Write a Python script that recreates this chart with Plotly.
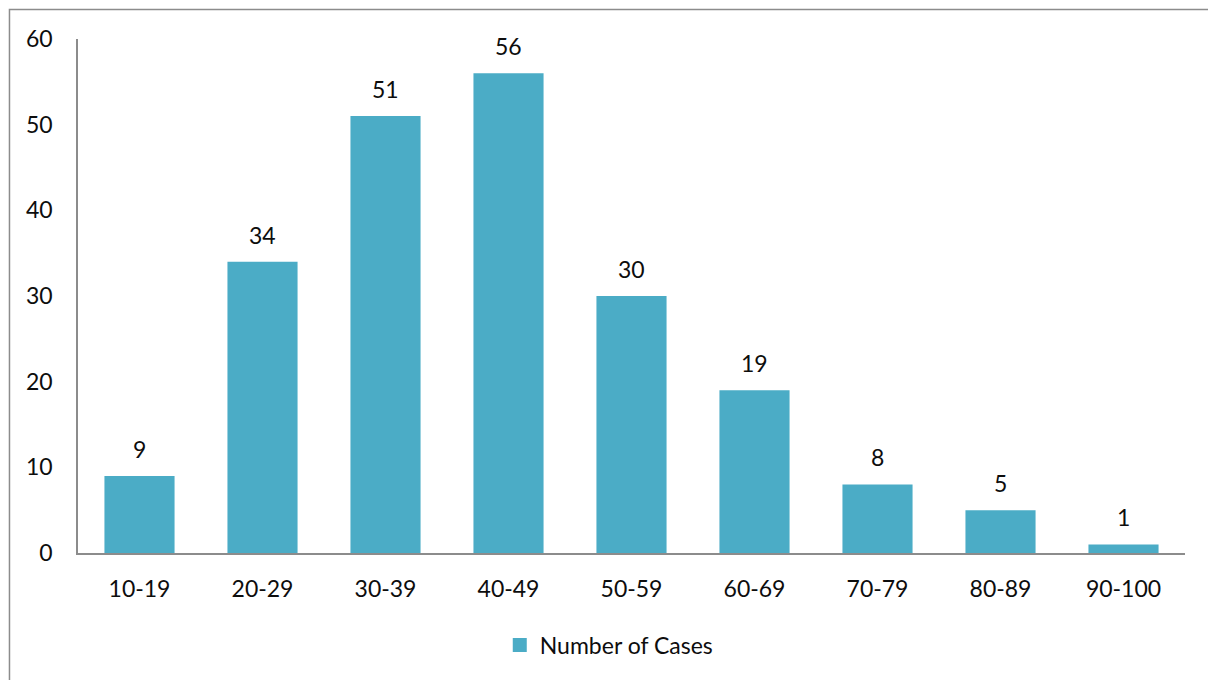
import plotly.graph_objects as go

# Age groups and case counts
age_groups = ["10-19", "20-29", "30-39", "40-49", "50-59", "60-69", "70-79", "80-89", "90-100"]
cases = [9, 34, 51, 56, 30, 19, 8, 5, 1]
y_ticks = [0, 10, 20, 30, 40, 50, 60]

BAR_COLOR = "#4BACC6"
AXIS_COLOR = "#8C8C8C"
TEXT_COLOR = "#0D0D0D"
FONT = "Lato, 'Open Sans', sans-serif"
FONT_SIZE = 23

fig = go.Figure()
fig.add_trace(go.Bar(
    x=age_groups,
    y=cases,
    name="Number of Cases",
    marker=dict(color=BAR_COLOR, line=dict(width=0)),
    showlegend=False,
))

# Legend entry with a larger square swatch
fig.add_trace(go.Scatter(
    x=[None], y=[None], mode="markers", name="Number of Cases",
    marker=dict(symbol="square", size=14, color=BAR_COLOR),
    showlegend=True,
))

# Value labels sitting above each bar
for g, v in zip(age_groups, cases):
    fig.add_annotation(
        x=g, y=v, text=str(v), showarrow=False,
        yanchor="middle", yshift=27,
        font=dict(size=FONT_SIZE, color=TEXT_COLOR, family=FONT),
    )

fig.update_layout(
    width=1208, height=680,
    margin=dict(l=78, r=23, t=39, b=127),
    paper_bgcolor="white", plot_bgcolor="white",
    font=dict(family=FONT, size=FONT_SIZE, color=TEXT_COLOR),
    bargap=0.43,
    showlegend=True,
    legend=dict(
        orientation="h", x=0.381, xanchor="left", y=-0.179, yanchor="middle",
        font=dict(size=FONT_SIZE, color=TEXT_COLOR, family=FONT),
        itemwidth=30,
    ),
    xaxis=dict(
        showline=True, linecolor=AXIS_COLOR, linewidth=1.5,
        showgrid=False, ticks="", tickfont=dict(size=FONT_SIZE),
        ticklabelstandoff=15,
    ),
    yaxis=dict(
        range=[0, 60], tickvals=y_ticks,
        showline=True, linecolor=AXIS_COLOR, linewidth=1.5,
        showgrid=False, zeroline=False, ticks="", ticklabelstandoff=19,
        tickfont=dict(size=FONT_SIZE),
    ),
    shapes=[dict(
        type="rect", xref="paper", yref="paper",
        x0=-0.0619, x1=1.05, y0=-0.4, y1=1.0574,
        line=dict(color="#8C8C8C", width=1.5), layer="below",
    )],
)

fig.write_html("out.html")
